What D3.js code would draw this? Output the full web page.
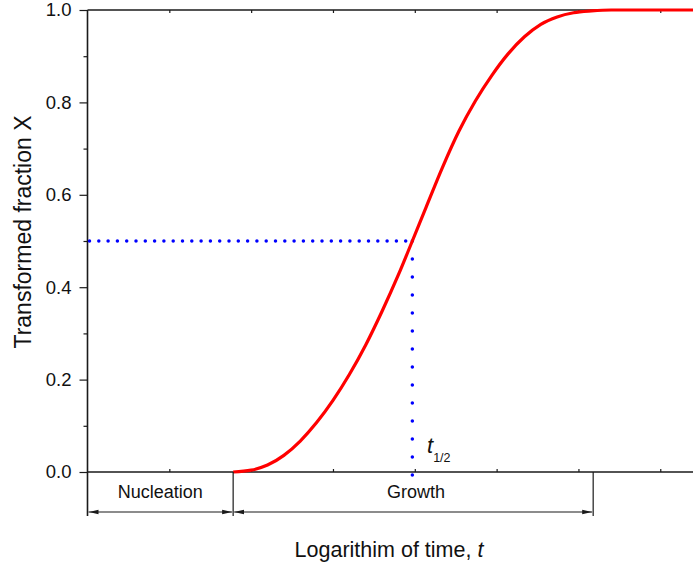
<!DOCTYPE html>
<html>
<head>
<meta charset="utf-8">
<script src="https://cdn.jsdelivr.net/npm/d3@7"></script>
<style>
  html, body { margin: 0; padding: 0; background: #fff; }
  svg { display: block; font-family: Arial, "Liberation Sans", sans-serif; }
</style>
</head>
<body>
<svg id="chart" width="693" height="564"></svg>
<script>
// ---- data ----
const logTime = [1.78, 2.00, 2.20, 2.40, 2.60, 2.80, 3.00, 3.20, 3.40, 3.60, 3.80, 3.97, 4.14, 4.34, 4.54, 4.74, 4.94, 5.14, 5.34, 5.54, 5.74, 5.94, 6.16, 6.40, 6.80, 7.40];
const fraction = [0, 0.004, 0.015, 0.036, 0.067, 0.107, 0.155, 0.211, 0.275, 0.348, 0.427, 0.500, 0.574, 0.660, 0.738, 0.803, 0.858, 0.905, 0.942, 0.969, 0.985, 0.994, 0.998, 1.0, 1.0, 1.0];
const yTickLabels = ["0.0", "0.2", "0.4", "0.6", "0.8", "1.0"];
const yMajorTicks = [0, 0.2, 0.4, 0.6, 0.8, 1.0];
const yMinorTicks = [0.1, 0.3, 0.5, 0.7, 0.9];
const xTicks = [1, 2, 3, 4, 5, 6, 7];
const halfTime = 3.97;
const halfFraction = 0.5;
const nucleationStart = 0;
const growthStart = 1.78;
const growthEnd = 6.18;
const stageLabels = ["Nucleation", "Growth"];

// ---- layout ----
const svg = d3.select("#chart");
const x = d3.scaleLinear().domain([0, 7.4]).range([87.5, 693]);
const y = d3.scaleLinear().domain([0, 1]).range([472, 10]);
const axisColor = "#1a1a1a";
const textColor = "#111";

// bottom axis (ticks inward)
const bottomAxis = svg.append("g").attr("transform", `translate(0,${y(0)})`)
  .call(d3.axisBottom(x).tickValues(xTicks).tickSize(-3).tickFormat(""));
bottomAxis.select(".domain").attr("stroke", axisColor).attr("stroke-width", 1.6).attr("d", `M${x(0)},0H693`);
bottomAxis.selectAll(".tick line").attr("stroke", axisColor).attr("stroke-width", 1.2);

// top axis (ticks inward)
const topAxis = svg.append("g").attr("transform", `translate(0,${y(1)})`)
  .call(d3.axisTop(x).tickValues(xTicks).tickSize(-3).tickFormat(""));
topAxis.select(".domain").attr("stroke", axisColor).attr("stroke-width", 1.6).attr("d", `M${x(0)},0H693`);
topAxis.selectAll(".tick line").attr("stroke", axisColor).attr("stroke-width", 1.2);

// left axis major
const leftAxis = svg.append("g").attr("transform", `translate(${x(0)},0)`)
  .call(d3.axisLeft(y).tickValues(yMajorTicks).tickSize(8).tickPadding(8)
    .tickFormat((d, i) => yTickLabels[i]));
leftAxis.select(".domain").remove();
leftAxis.selectAll(".tick line").attr("stroke", axisColor).attr("stroke-width", 1.2);
leftAxis.selectAll(".tick text").attr("font-size", 18.5).attr("fill", textColor)
  .attr("font-family", "Arial, 'Liberation Sans', sans-serif");
// left minor
const leftMinor = svg.append("g").attr("transform", `translate(${x(0)},0)`)
  .call(d3.axisLeft(y).tickValues(yMinorTicks).tickSize(4).tickFormat(""));
leftMinor.select(".domain").remove();
leftMinor.selectAll(".tick line").attr("stroke", axisColor).attr("stroke-width", 1.2);

// left spine extended down to bracket
svg.append("line").attr("x1", x(0)).attr("x2", x(0)).attr("y1", y(1)).attr("y2", 516)
  .attr("stroke", axisColor).attr("stroke-width", 1.6);

// dotted half lines
svg.append("path")
  .attr("d", `M${x(0) + 2},${y(halfFraction)}H${x(halfTime)}`)
  .attr("stroke", "#0000ff").attr("stroke-width", 3.5).attr("stroke-linecap", "round")
  .attr("stroke-dasharray", "0 9.3").attr("fill", "none");
svg.append("path")
  .attr("d", `M${x(halfTime)},${y(halfFraction)}V478`)
  .attr("stroke", "#0000ff").attr("stroke-width", 3.5).attr("stroke-linecap", "round")
  .attr("stroke-dasharray", "0 18").attr("fill", "none");

// curve
const data = logTime.map((t, i) => ({ t, v: fraction[i] }));
svg.append("path").datum(data)
  .attr("d", d3.line().x(d => x(d.t)).y(d => y(d.v)).curve(d3.curveMonotoneX))
  .attr("fill", "none").attr("stroke", "#ff0000").attr("stroke-width", 3.2);

// t1/2 label
const tl = svg.append("text").attr("x", 427).attr("y", 453).attr("fill", textColor)
  .attr("font-size", 22);
tl.append("tspan").attr("font-style", "italic").text("t");
tl.append("tspan").attr("font-size", 12.5).attr("dy", 9).attr("dx", 0).text("1/2");

// stage brackets
svg.append("line").attr("x1", x(growthStart)).attr("x2", x(growthStart)).attr("y1", y(0)).attr("y2", 516)
  .attr("stroke", axisColor).attr("stroke-width", 1.2);
svg.append("line").attr("x1", x(growthEnd)).attr("x2", x(growthEnd)).attr("y1", y(0)).attr("y2", 516)
  .attr("stroke", axisColor).attr("stroke-width", 1.2);

const defs = svg.append("defs");
defs.append("marker").attr("id", "arr").attr("viewBox", "0 0 10 6")
  .attr("refX", 10).attr("refY", 3).attr("markerWidth", 10).attr("markerHeight", 6)
  .attr("markerUnits", "userSpaceOnUse").attr("orient", "auto-start-reverse")
  .append("path").attr("d", "M0,0.8L10,3L0,5.2Z").attr("fill", axisColor);

const arrowY = 512;
[[nucleationStart, growthStart], [growthStart, growthEnd]].forEach(([a, b]) => {
  svg.append("line").attr("x1", x(a) + 1).attr("x2", x(b) - 1).attr("y1", arrowY).attr("y2", arrowY)
    .attr("stroke", axisColor).attr("stroke-width", 1.2)
    .attr("marker-start", "url(#arr)").attr("marker-end", "url(#arr)");
});

svg.append("text").attr("x", (x(nucleationStart) + x(growthStart)) / 2).attr("y", 498)
  .attr("text-anchor", "middle").attr("font-size", 18).attr("fill", textColor).text(stageLabels[0]);
svg.append("text").attr("x", 416).attr("y", 498)
  .attr("text-anchor", "middle").attr("font-size", 18).attr("fill", textColor).text(stageLabels[1]);

// axis titles
const xt = svg.append("text").attr("x", 389).attr("y", 557).attr("text-anchor", "middle")
  .attr("font-size", 21.5).attr("fill", textColor);
xt.append("tspan").text("Logarithim of time, ");
xt.append("tspan").attr("font-style", "italic").text("t");

svg.append("text").attr("transform", "translate(31,232) rotate(-90)")
  .attr("text-anchor", "middle").attr("font-size", 23).attr("fill", textColor)
  .text("Transformed fraction X");
</script>
</body>
</html>
